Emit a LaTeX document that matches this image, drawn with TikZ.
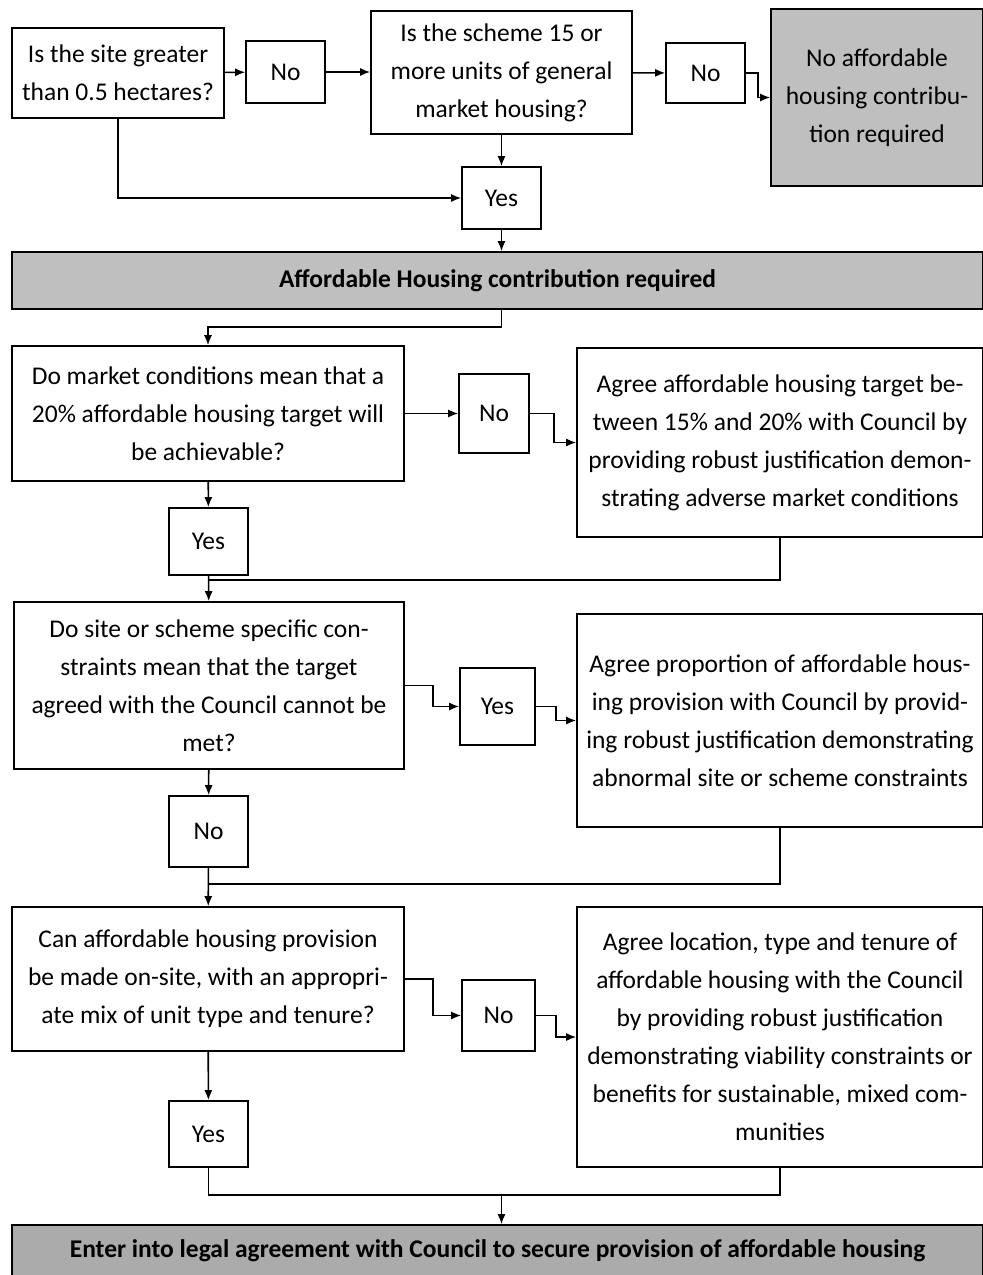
\documentclass[tikz,border=0pt]{standalone}
\usepackage{fontspec}
\setmainfont{Carlito}
\usepackage{tikz}
\usetikzlibrary{arrows.meta, positioning, calc}

\begin{document}
\begin{tikzpicture}[
    x=1pt, y=-1pt,
    box/.style={rectangle, draw, line width=1.6pt, fill=white, align=center, inner sep=0pt, font=\fontsize{25.5}{38}\selectfont},
    answer/.style={box, minimum width=79pt, minimum height=62pt},
    outcome/.style={box, fill=black!25},
    arrow/.style={-{Latex[length=10pt,width=8pt]}, line width=1.6pt},
    line/.style={line width=1.6pt}
]
\useasboundingbox (0,0) rectangle (983,1275);

% Size test
\node[box, minimum width=212pt, minimum height=90pt] (site) at (118,73) {Is the site greater\\than 0.5 hectares?};
\node[answer] (no1) at (285.5,72) {No};
\node[box, minimum width=261pt, minimum height=123pt] (units) at (501.5,72.5) {Is the scheme 15 or\\more units of general\\market housing?};
\node[answer, minimum height=60pt] (no2) at (705.5,73) {No};
\node[outcome, minimum width=212pt, minimum height=177pt] (noreq) at (877,97.5) {No affordable\\housing contribu-\\tion required};
\node[answer] (yes1) at (501.5,198) {Yes};
\node[outcome, minimum width=971pt, minimum height=57pt, font=\fontsize{25.5}{38}\selectfont\bfseries] (req) at (497.5,280.5) {Affordable Housing contribution required};

% Target
\node[box, minimum width=392pt, minimum height=135pt] (market) at (208,413.5) {Do market conditions mean that a\\20\% affordable housing target will\\be achievable?};
\node[answer, minimum width=70pt, minimum height=79pt] (no3) at (494,413.5) {No};
\node[box, minimum width=406pt, minimum height=189pt] (agreetarget) at (780,442.5) {Agree affordable housing target be-\\tween 15\% and 20\% with Council by\\providing robust justification demon-\\strating adverse market conditions};
\node[answer, minimum height=67pt] (yes3) at (208.5,541.5) {Yes};

% Constraints
\node[box, minimum width=390pt, minimum height=167pt] (constraints) at (209,685.5) {Do site or scheme specific con-\\straints mean that the target\\agreed with the Council cannot be\\met?};
\node[answer, minimum width=75pt, minimum height=77pt] (yes4) at (497.5,706.5) {Yes};
\node[box, minimum width=406pt, minimum height=213pt] (agreeprop) at (780,720.5) {Agree proportion of affordable hous-\\ing provision with Council by provid-\\ing robust justification demonstrating\\abnormal site or scheme constraints};
\node[answer, minimum height=71pt] (no4) at (208.5,831.5) {No};

% On-site provision
\node[box, minimum width=392pt, minimum height=144pt] (onsite) at (208,979) {Can affordable housing provision\\be made on-site, with an appropri-\\ate mix of unit type and tenure?};
\node[answer, minimum width=73pt, minimum height=71pt] (no5) at (498.5,1015.5) {No};
\node[box, minimum width=406pt, minimum height=260pt] (agreeloc) at (780,1037) {Agree location, type and tenure of\\affordable housing with the Council\\by providing robust justification\\demonstrating viability constraints or\\benefits for sustainable, mixed com-\\munities};
\node[answer, minimum height=66pt] (yes5) at (208.5,1134) {Yes};

\node[outcome, minimum width=971pt, minimum height=52pt, fill=black!33, font=\fontsize{25.5}{38}\selectfont\bfseries] (legal) at (497.5,1251) {Enter into legal agreement with Council to secure provision of affordable housing};

% Junctions
\coordinate (j1) at (208,580);
\coordinate (j2) at (208,884);
\coordinate (j3) at (501.5,1195);

% Connections
\draw[arrow] (site) -- (no1);
\draw[arrow] (no1) -- (units.west |- no1);
\draw[arrow] (units) -- (no2);
\draw[arrow] (no2.east) -- ++(12,0) |- (noreq.west);
\draw[arrow] (units) -- (yes1);
\draw[arrow] (site.south) |- (yes1.west);
\draw[arrow] (yes1) -- (yes1 |- req.north);
\draw[arrow] (yes1 |- req.south) -- ++(0,17) -| (market.north);

\draw[arrow] (market) -- (no3);
\draw[arrow] (no3.east) -- ++(24,0) |- (agreetarget.west);
\draw[arrow] (market) -- (yes3);
\draw[arrow] (yes3) -- (constraints);
\draw[line] (agreetarget.south) |- (j1);

\draw[arrow] (constraints.east) -- ++(28,0) |- (yes4.west);
\draw[arrow] (yes4.east) -- ++(20,0) |- (agreeprop.west);
\draw[arrow] (constraints) -- (no4);
\draw[arrow] (no4) -- (onsite);
\draw[line] (agreeprop.south) |- (j2);

\draw[arrow] (onsite.east) -- ++(28,0) |- (no5.west);
\draw[arrow] (no5.east) -- ++(20,0) |- (agreeloc.west);
\draw[arrow] (onsite) -- (yes5);
\draw[line] (yes5.south) |- (agreeloc.south |- j3) -- (agreeloc.south);
\draw[arrow] (j3) -- (j3 |- legal.north);

\end{tikzpicture}
\end{document}
